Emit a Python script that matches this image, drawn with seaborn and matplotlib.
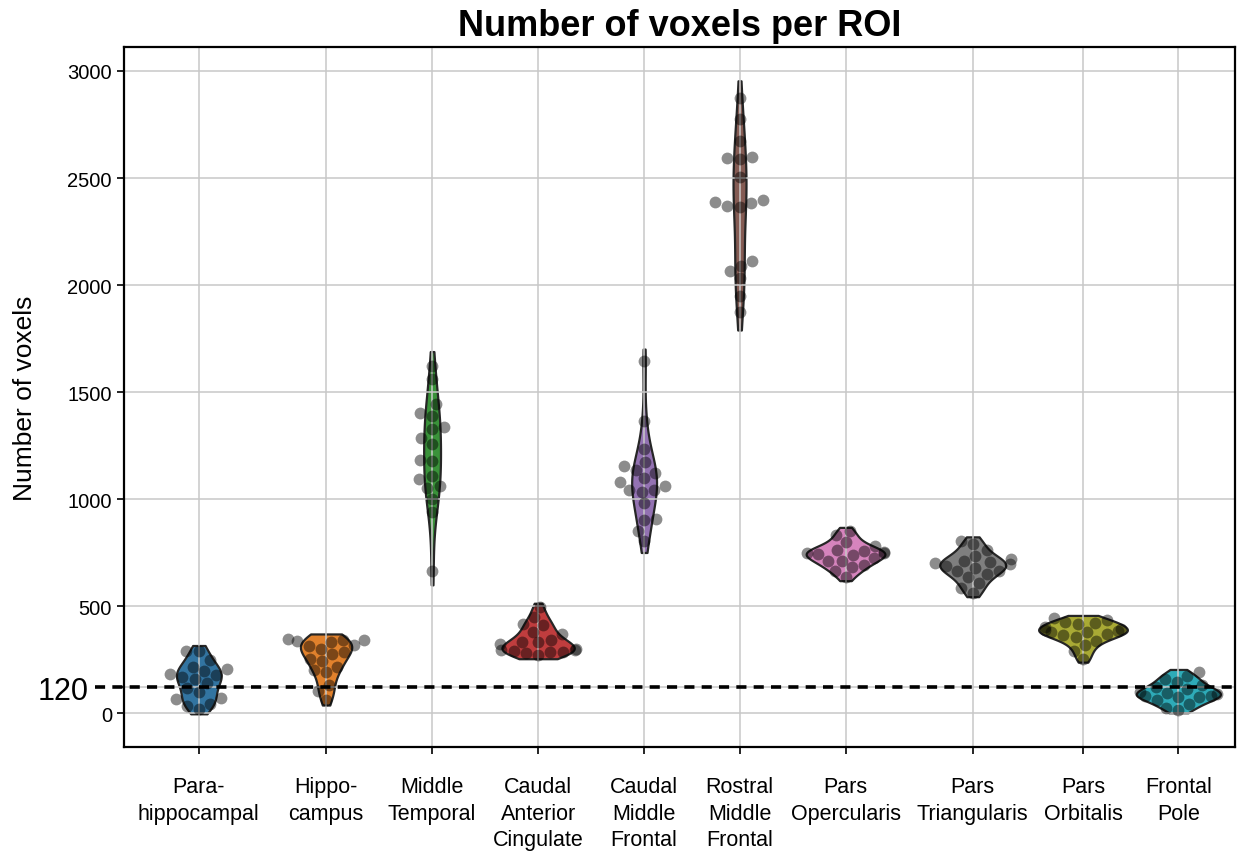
import numpy as np
import pandas as pd
import matplotlib
matplotlib.use("Agg")
import matplotlib.pyplot as plt
import seaborn as sns

# ROI names (tick labels) and voxel counts per subject for each ROI
rois = ["Para-\nhippocampal", "Hippo-\ncampus", "Middle\nTemporal",
        "Caudal\nAnterior\nCingulate", "Caudal\nMiddle\nFrontal",
        "Rostral\nMiddle\nFrontal", "Pars\nOpercularis", "Pars\nTriangularis",
        "Pars\nOrbitalis", "Frontal\nPole"]

parahippocampal = [292, 290, 246, 216, 206, 198, 182, 176, 168, 160, 140, 118, 98, 72, 64, 40, 34, 20]
hippocampus = [345, 341, 339, 336, 332, 318, 315, 300, 286, 276, 252, 244, 214, 200, 192, 130, 104, 62]
middle_temporal = [1623, 1561, 1442, 1402, 1390, 1338, 1327, 1284, 1257, 1184, 1179, 1106, 1093, 1062, 1051, 1000, 938, 665]
caudal_anterior_cingulate = [495, 447, 415, 410, 380, 369, 340, 333, 330, 322, 300, 296, 294, 291, 287, 285, 280, 272]
caudal_middle_frontal = [1646, 1366, 1234, 1175, 1153, 1137, 1121, 1096, 1081, 1062, 1044, 1040, 1034, 980, 907, 902, 852, 805]
rostral_middle_frontal = [2872, 2776, 2674, 2600, 2595, 2589, 2503, 2397, 2389, 2382, 2371, 2366, 2110, 2090, 2064, 2031, 1950, 1872]
pars_opercularis = [852, 830, 800, 782, 763, 756, 751, 750, 748, 743, 738, 724, 712, 710, 690, 681, 665, 634]
pars_triangularis = [805, 790, 760, 735, 720, 710, 704, 701, 695, 688, 680, 665, 664, 650, 634, 610, 582, 562]
pars_orbitalis = [442, 435, 427, 421, 415, 400, 392, 389, 385, 380, 378, 369, 364, 355, 338, 318, 290, 252]
frontal_pole = [190, 174, 160, 143, 130, 120, 112, 100, 95, 89, 82, 78, 76, 73, 60, 42, 25, 15]

threshold = 120
y_ticks = [0, 120, 500, 1000, 1500, 2000, 2500, 3000]

series = [parahippocampal, hippocampus, middle_temporal, caudal_anterior_cingulate,
          caudal_middle_frontal, rostral_middle_frontal, pars_opercularis,
          pars_triangularis, pars_orbitalis, frontal_pole]

# horizontal slot of each ROI along the axis
x_slots = [0.0, 1.2, 2.2, 3.2, 4.2, 5.1, 6.1, 7.3, 8.34, 9.24]

df = pd.DataFrame({
    "roi": np.repeat(rois, [len(s) for s in series]),
    "pos": np.repeat(x_slots, [len(s) for s in series]),
    "voxels": np.concatenate([np.asarray(s, float) for s in series]),
})

plt.rcParams["font.family"] = ["Liberation Sans", "DejaVu Sans"]

fig = plt.figure(figsize=(12.38, 8.53), dpi=100)
ax = fig.add_axes([0.100, 0.123, 0.8976, 0.8207])

palette = sns.color_palette("tab10", len(rois))

sns.violinplot(data=df, x="pos", y="voxels", hue="roi", hue_order=rois,
               palette=palette, native_scale=True, dodge=False, cut=0.5,
               inner=None, width=0.93, linewidth=1.6, linecolor="#262626",
               density_norm="area", common_norm=True,
               legend=False, ax=ax)
sns.swarmplot(data=df, x="pos", y="voxels", native_scale=True, color="black",
              alpha=0.45, size=8.5, linewidth=0, ax=ax, zorder=3)

# threshold line, running slightly past the left spine
ax.axhline(threshold, xmin=-0.026, xmax=1.003, color="black", lw=2.6,
           dashes=(2.8, 2.0), zorder=4, clip_on=False)

ax.set_axisbelow("line")
ax.grid(True, color="#c8c8c8", lw=1.1)

ax.set_xlim(-0.708, 9.774)
ax.set_ylim(-159, 3112)
ax.set_xticks(x_slots)
ax.set_xticklabels(rois, fontsize=15.5, linespacing=1.35)
ax.set_yticks(y_ticks)
ax.set_yticklabels([str(t) for t in y_ticks], fontsize=14.5)
ax.tick_params(axis="both", length=5, width=1.2, color="black")
ax.tick_params(axis="x", pad=16)
for tick in ax.yaxis.get_major_ticks():
    if tick.label1.get_text() == str(threshold):
        tick.label1.set_fontsize(22)
        tick.set_pad(20)

for sp in ax.spines.values():
    sp.set_linewidth(1.6)
    sp.set_color("black")

ax.set_xlabel("")
ax.set_ylabel("Number of voxels", fontsize=19)
ax.yaxis.set_label_coords(-0.078, 0.5)
ax.set_title("Number of voxels per ROI", fontsize=26, fontweight="bold", pad=9)

fig.savefig("out.png", dpi=100)
